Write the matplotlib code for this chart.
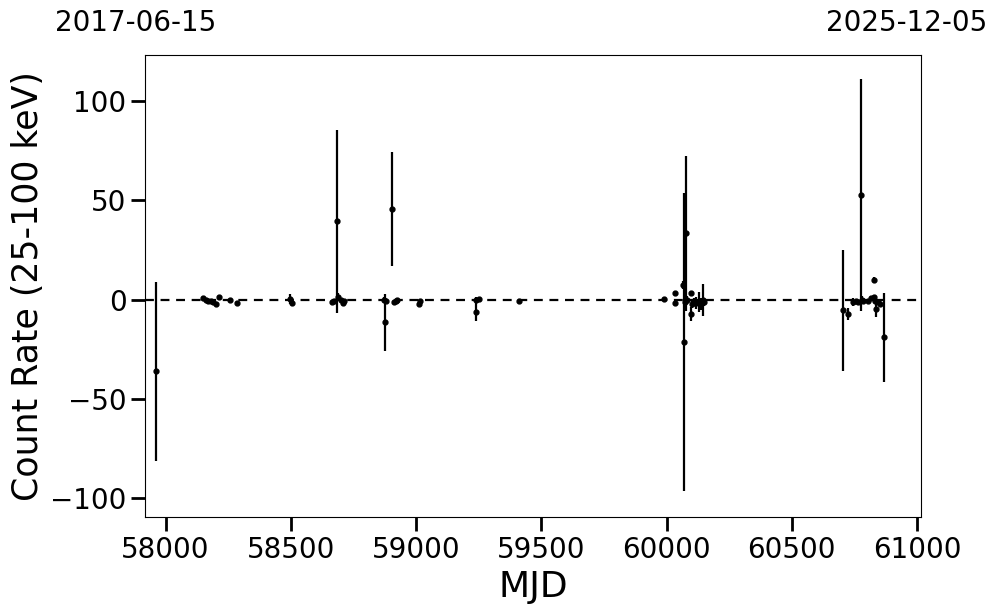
import matplotlib
matplotlib.use("Agg")
import matplotlib.pyplot as plt
import numpy as np

mjd = [57961, 58150, 58160, 58170, 58180, 58190, 58201, 58213, 58257, 58284,
       58497, 58503, 58664, 58674, 58683, 58690, 58700, 58708, 58712,
       58873, 58877, 58880, 58905, 58910, 58918, 58925, 59010, 59015,
       59238, 59240, 59252, 59410, 59988, 60033, 60035, 60066, 60069, 60077,
       60072, 60080, 60097, 60097, 60103, 60110, 60118, 60130, 60138, 60145,
       60148, 60706, 60724, 60744, 60757, 60765, 60777, 60780, 60785, 60805,
       60817, 60828, 60828, 60834, 60837, 60843, 60854, 60870]
rate = [-36.0, 0.8, -0.2, -0.7, -0.5, -1.0, -2.3, 1.3, -0.3, -1.8,
        0.5, -1.8, -1.0, -0.5, 39.5, 1.5, 0.0, -1.8, -0.8,
        -0.2, -11.5, -0.8, 45.6, -1.2, -0.5, -0.2, -2.0, -0.8,
        -6.0, -0.3, 0.2, -0.5, 0.2, 3.4, -1.5, 7.3, -21.5, 33.5,
        -1.0, 0.0, 3.4, -7.0, -2.0, -1.0, -1.5, -1.0, -2.0, 0.0,
        -1.0, -5.3, -7.0, -1.1, -0.6, -1.0, 52.6, -0.3, -0.8, -0.5,
        0.6, 9.8, 1.4, -0.5, -4.9, -1.1, -2.3, -18.9]
err = [45.0, 1, 1, 1, 1, 1, 1, 1, 1, 1,
       2.5, 1.5, 1, 1, 46.0, 2, 1, 1.5, 1,
       1.5, 14.5, 1, 28.7, 1, 1, 1, 1, 1,
       4.5, 1.5, 1, 1, 1, 1, 1, 2, 75.0, 39.0,
       3, 2, 1, 3.5, 2, 2, 3, 5, 3, 8,
       2, 30.5, 3, 2, 1, 1, 58.4, 2, 1, 1,
       1, 1.5, 1, 1, 4, 1, 1, 22.5]

xlim = (57919, 61014)
date_labels = ["2017-06-15", "2025-12-05"]

fig = plt.figure(figsize=(9.97, 6.13), dpi=100)
W, H = 997, 613
ax = fig.add_axes([145.3 / W, (H - 517.3) / H, (920.5 - 145.3) / W, (517.3 - 55) / H])

ax.errorbar(mjd, rate, yerr=err, fmt='o', color='black', ms=3.5,
            elinewidth=1.6, capsize=0, ecolor='black')
ax.axhline(0, color='black', ls='--', lw=1.6, dashes=(4, 3))

ax.set_xlim(*xlim)
ax.set_ylim(-109.6, 123.2)
ax.set_xticks([58000, 58500, 59000, 59500, 60000, 60500, 61000])
ax.set_yticks([-100, -50, 0, 50, 100])
ax.set_yticklabels(['\u2212100', '\u221250', '0', '50', '100'])
ax.tick_params(axis='both', labelsize=20, length=10, width=2)
ax.set_xlabel('MJD', fontsize=26)
ax.set_ylabel('Count Rate (25-100 keV)', fontsize=25)

fig.text(136 / W, 1 - 23 / H, date_labels[0], ha='center', va='center', fontsize=20)
fig.text(907 / W, 1 - 23 / H, date_labels[1], ha='center', va='center', fontsize=20)

fig.savefig('out.png', dpi=100)
